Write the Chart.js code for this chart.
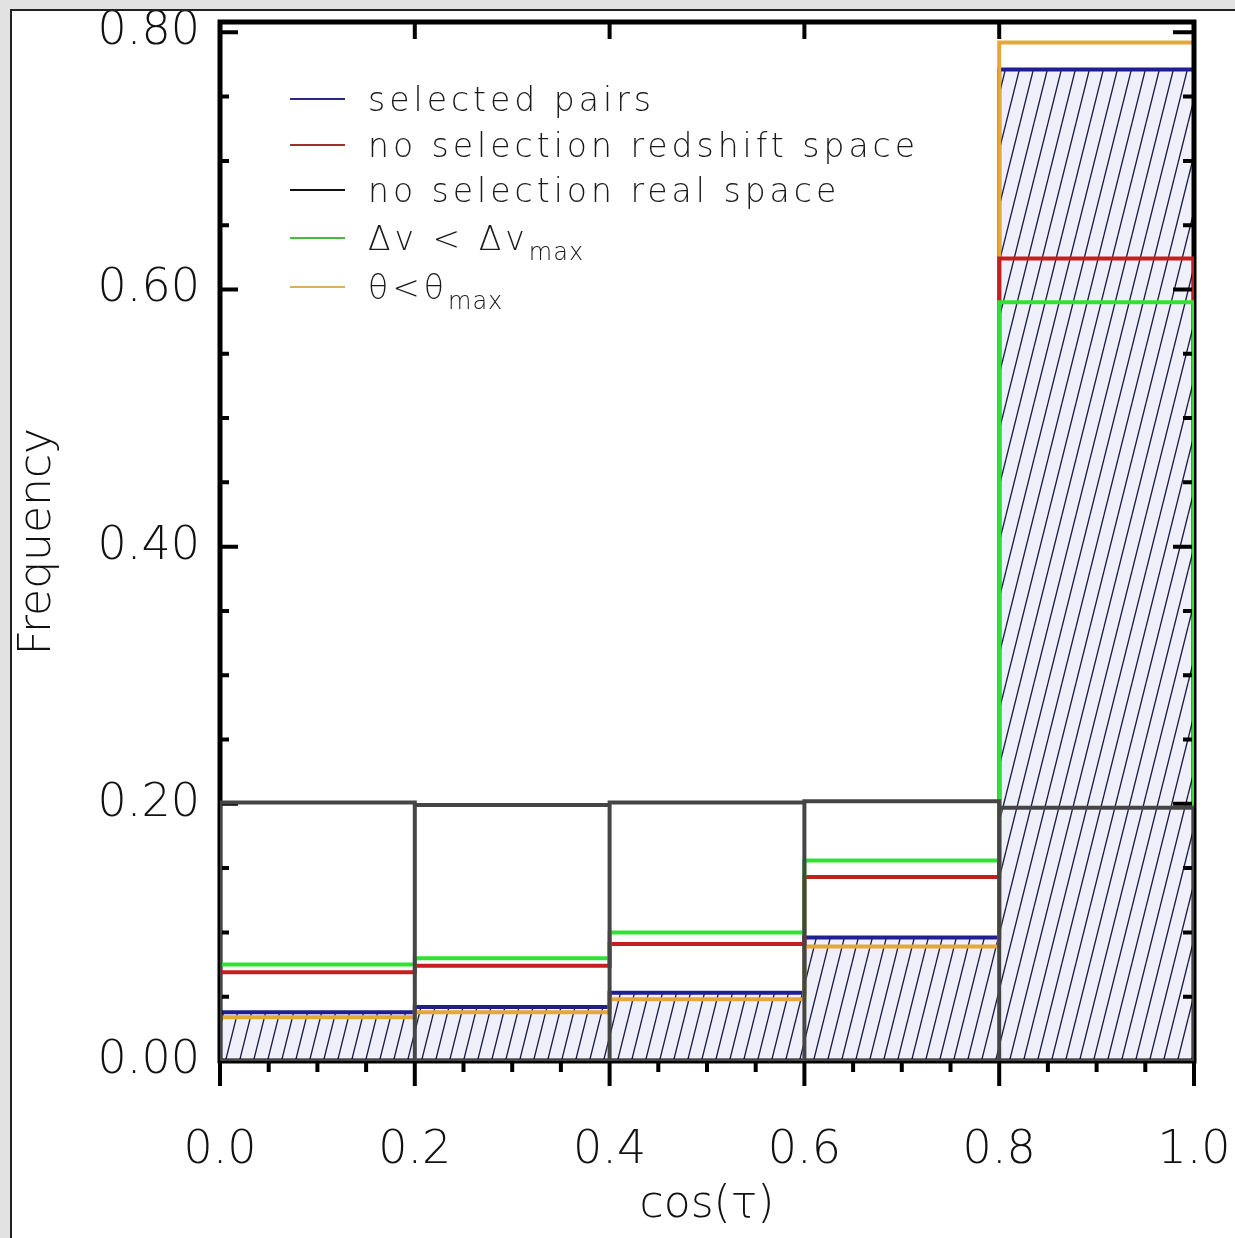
<!DOCTYPE html>
<html>
<head>
<meta charset="utf-8">
<script src="https://cdn.jsdelivr.net/npm/chart.js@4"></script>
<style>
html, body { margin: 0; padding: 0; }
body { width: 1235px; height: 1238px; background: #e2e2e2; position: relative; overflow: hidden; }
#frame { position: absolute; left: 10px; top: 9px; width: 1225px; height: 1229px; background: #fff;
         border-left: 2px solid #222; border-top: 2px solid #222; box-sizing: border-box; }
#chart { position: absolute; left: 0; top: 0; }
</style>
</head>
<body>
<div id="frame"><canvas id="chart" width="1223" height="1227"></canvas></div>
<script>
// histogram bins of cos(tau)
const binEdges = [0.0, 0.2, 0.4, 0.6, 0.8, 1.0];
const selectedPairs = [0.038, 0.042, 0.053, 0.096, 0.771];
const noSelRedshift = [0.069, 0.074, 0.091, 0.143, 0.624];
const noSelReal = [0.201, 0.199, 0.201, 0.202, 0.197];
const dvBelowMax = [0.075, 0.080, 0.100, 0.156, 0.590];
const thetaBelowMax = [0.034, 0.038, 0.048, 0.089, 0.792];

const xTickValues = [0.0, 0.2, 0.4, 0.6, 0.8, 1.0];
const xTickLabels = ['0.0', '0.2', '0.4', '0.6', '0.8', '1.0'];
const xMinorTicks = [0.05, 0.10, 0.15, 0.25, 0.30, 0.35, 0.45, 0.50, 0.55, 0.65, 0.70, 0.75, 0.85, 0.90, 0.95];
const yTickValues = [0.0, 0.2, 0.4, 0.6, 0.8];
const yTickLabels = ['0.00', '0.20', '0.40', '0.60', '0.80'];
const yMinorTicks = [0.05, 0.10, 0.15, 0.25, 0.30, 0.35, 0.45, 0.50, 0.55, 0.65, 0.70, 0.75];

const legendLabels = ['selected pairs', 'no selection redshift space', 'no selection real space', 'Δv < Δv', 'θ<θ'];
const legendSubs = ['', '', '', 'max', 'max'];

const FONT = '"DejaVu Sans", "Liberation Sans", sans-serif';
const COL = { blue: '#1f1f92', red: '#c21f1f', gray: '#454545', green: '#35e035', orange: '#e4a73a' };

// step outline (stepped 'after' = rise at the left edge, then run across the bin)
function stepData(values) {
    const pts = [{ x: binEdges[0], y: 0 }];
    values.forEach((v, i) => pts.push({ x: binEdges[i + 1], y: v }));
    pts.push({ x: binEdges[binEdges.length - 1], y: 0 });
    return pts;
}

// closed box around every bin
function boxData(values) {
    const pts = [{ x: binEdges[0], y: 0 }];
    values.forEach((v, i) => {
        pts.push({ x: binEdges[i], y: v }, { x: binEdges[i + 1], y: v }, { x: binEdges[i + 1], y: 0 });
    });
    pts.push({ x: binEdges[0], y: 0 });
    return pts;
}

function hatchPattern() {
    const c = document.createElement('canvas');
    c.width = 14; c.height = 56;
    const g = c.getContext('2d');
    g.fillStyle = '#f0f0fa';
    g.fillRect(0, 0, c.width, c.height);
    g.strokeStyle = '#1c1c48';
    g.lineWidth = 1.3;
    [-14, 0, 14].forEach(off => {
        g.beginPath();
        g.moveTo(off, c.height);
        g.lineTo(off + c.width, 0);
        g.stroke();
    });
    return g.createPattern(c, 'repeat');
}

const ctx = document.getElementById('chart').getContext('2d');

const axisFrame = {
    id: 'axisFrame',
    afterDatasetDraw(chart, args) {
        if (args.meta.label !== 'theta') return;
        const { ctx, chartArea: a, scales: { x, y } } = chart;
        ctx.save();
        ctx.strokeStyle = '#000';
        ctx.lineWidth = 5;
        ctx.strokeRect(a.left, a.top, a.right - a.left, a.bottom - a.top);
        ctx.lineWidth = 4;
        ctx.beginPath();
        yTickValues.forEach(v => {
            const py = y.getPixelForValue(v);
            ctx.moveTo(a.left, py); ctx.lineTo(a.left + 18, py);
            ctx.moveTo(a.right, py); ctx.lineTo(a.right - 21, py);
        });
        yMinorTicks.forEach(v => {
            const py = y.getPixelForValue(v);
            ctx.moveTo(a.left, py); ctx.lineTo(a.left + 9, py);
            ctx.moveTo(a.right, py); ctx.lineTo(a.right - 11, py);
        });
        xTickValues.forEach(v => {
            const px = x.getPixelForValue(v);
            ctx.moveTo(px, a.top); ctx.lineTo(px, a.top + 17);
            ctx.moveTo(px, a.bottom); ctx.lineTo(px, a.bottom + 25);
        });
        xMinorTicks.forEach(v => {
            const px = x.getPixelForValue(v);
            ctx.moveTo(px, a.bottom); ctx.lineTo(px, a.bottom + 11);
        });
        ctx.stroke();
        ctx.restore();
    },
    afterDraw(chart) {
        const { ctx } = chart;
        const rowY = [88, 134, 179, 227, 276];
        ctx.save();
        chart.data.datasets.slice().sort((a, b) => a.legendRank - b.legendRank).forEach((ds, i) => {
            ctx.strokeStyle = ds.legendColor;
            ctx.lineWidth = 2;
            ctx.beginPath();
            ctx.moveTo(278, rowY[i]); ctx.lineTo(333, rowY[i]);
            ctx.stroke();
            ctx.fillStyle = '#1a1a1a';
            ctx.textBaseline = 'alphabetic';
            ctx.letterSpacing = '4px';
            ctx.font = '200 33px ' + FONT;
            ctx.fillText(legendLabels[i], 356, rowY[i] + 12);
            if (legendSubs[i]) {
                const w = ctx.measureText(legendLabels[i]).width;
                ctx.letterSpacing = '1px';
                ctx.font = '200 24px ' + FONT;
                ctx.fillText(legendSubs[i], 356 + w, rowY[i] + 22);
            }
        });
        ctx.restore();
    }
};

new Chart(ctx, {
    type: 'line',
    data: {
        datasets: [
            { label: 'selected', legendRank: 0, legendColor: '#2a2a80', data: stepData(selectedPairs), stepped: 'after',
              borderColor: COL.blue, borderWidth: 4, fill: 'origin', backgroundColor: hatchPattern(), order: 5 },
            { label: 'theta', legendRank: 4, legendColor: '#d8b060', data: stepData(thetaBelowMax), stepped: 'after',
              borderColor: COL.orange, borderWidth: 4, order: 4 },
            { label: 'redshift', legendRank: 1, legendColor: '#a03030', data: stepData(noSelRedshift), stepped: 'after',
              borderColor: COL.red, borderWidth: 4, order: 3 },
            { label: 'dv', legendRank: 3, legendColor: '#40c040', data: stepData(dvBelowMax), stepped: 'after',
              borderColor: COL.green, borderWidth: 4, order: 2 },
            { label: 'real', legendRank: 2, legendColor: '#111111', data: boxData(noSelReal),
              borderColor: COL.gray, borderWidth: 4, order: 1 }
        ]
    },
    options: {
        responsive: false,
        animation: false,
        events: [],
        elements: { point: { radius: 0 }, line: { tension: 0, borderJoinStyle: 'miter', borderCapStyle: 'square' } },
        layout: { padding: { top: 11, right: 41, left: 0, bottom: 0 } },
        plugins: { legend: { display: false }, tooltip: { enabled: false } },
        scales: {
            x: {
                type: 'linear', min: 0, max: 1,
                grid: { display: false, drawTicks: false },
                border: { display: false },
                afterBuildTicks: s => { s.ticks = xTickValues.map(v => ({ value: v })); },
                afterFit: s => { s.height = 177; s.paddingLeft = 0; s.paddingRight = 0; },
                ticks: {
                    autoSkip: false, maxRotation: 0, padding: 62, color: '#111',
                    font: { family: FONT, size: 46, weight: 200 },
                    callback: (v, i) => xTickLabels[i]
                },
                title: {
                    display: true, text: 'cos(τ)', color: '#111',
                    font: { family: FONT, size: 44, weight: 200 },
                    padding: { top: 0, bottom: 6 }
                }
            },
            y: {
                type: 'linear', min: 0, max: 0.808,
                grid: { display: false, drawTicks: false },
                border: { display: false },
                afterBuildTicks: s => { s.ticks = yTickValues.map(v => ({ value: v })); },
                afterFit: s => { s.width = 208; s.paddingTop = 0; s.paddingBottom = 0; },
                ticks: {
                    autoSkip: false, padding: 20, color: '#111',
                    font: { family: FONT, size: 46, weight: 200 },
                    callback: (v, i) => yTickLabels[i]
                },
                title: {
                    display: true, text: 'Frequency', color: '#111',
                    font: { family: FONT, size: 44, weight: 200 },
                    padding: { top: 0, bottom: 0 }
                }
            }
        }
    },
    plugins: [axisFrame]
});
</script>
</body>
</html>
